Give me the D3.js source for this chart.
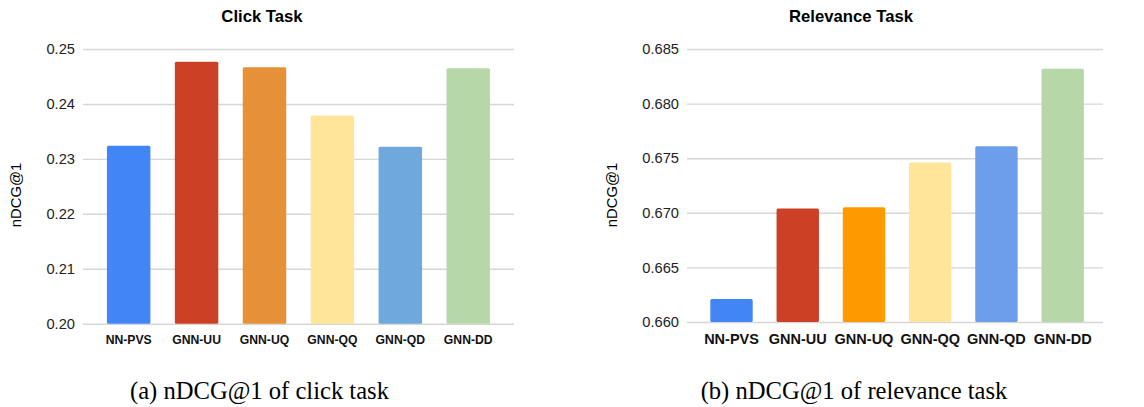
<!DOCTYPE html>
<meta charset="utf-8">
<style>
  body { margin: 0; background: #fff; }
  .grid line { stroke: #d6d6d6; stroke-width: 1.4px; }
  .tick text { fill: #222; }
  .title { font-family: Arial, "Liberation Sans", sans-serif; font-weight: bold; font-size: 16.7px; }
  .ylabel { font-family: Arial, "Liberation Sans", sans-serif; font-size: 14.8px; }
  .caption { font-family: "Times New Roman", "Liberation Serif", serif; font-size: 24.6px; }
</style>
<svg width="1144" height="407"></svg>
<script src="https://d3js.org/d3.v7.min.js"></script>
<script>
// data
var methods = ["NN-PVS", "GNN-UU", "GNN-UQ", "GNN-QQ", "GNN-QD", "GNN-DD"];
var clickValues = [0.2324, 0.2477, 0.2467, 0.2379, 0.2322, 0.2465];
var relevanceValues = [0.6621, 0.6704, 0.6705, 0.6746, 0.6761, 0.6832];
var clickTicks = [0.20, 0.21, 0.22, 0.23, 0.24, 0.25];
var relevanceTicks = [0.660, 0.665, 0.670, 0.675, 0.680, 0.685];
var clickColors = ["#4285f4", "#cc4125", "#e69138", "#ffe599", "#6fa8dc", "#b6d7a8"];
var relevanceColors = ["#4285f4", "#cc4125", "#ff9900", "#ffe599", "#6d9eeb", "#b6d7a8"];

var svg = d3.select("svg");

function drawPanel(p) {
  var g = svg.append("g");

  var y = d3.scaleLinear().domain(p.domain).range([p.bottom, p.top]);
  var x = d3.scaleBand().domain(methods).range(p.xRange)
            .paddingInner(0.36).paddingOuter(0.18);

  // grid + y tick labels
  var yAxis = d3.axisLeft(y)
      .tickValues(p.ticks)
      .tickFormat(d3.format(p.fmt))
      .tickSize(-(p.gridRight - p.gridLeft))
      .tickPadding(8);

  g.append("g")
    .attr("class", "grid")
    .attr("transform", "translate(" + p.gridLeft + ",0)")
    .call(yAxis)
    .call(function(s) { s.select(".domain").remove(); })
    .selectAll("text")
      .style("font-family", "Arial, 'Liberation Sans', sans-serif")
      .style("font-size", "14.7px");

  // bars
  g.selectAll("rect.bar")
    .data(p.values)
    .enter()
    .append("rect")
    .attr("class", "bar")
    .attr("x", function(d, i) { return x(methods[i]); })
    .attr("y", function(d) { return y(d); })
    .attr("width", x.bandwidth())
    .attr("height", function(d) { return y(p.domain[0]) - y(d); })
    .attr("rx", 1.5)
    .attr("fill", function(d, i) { return p.colors[i]; });

  // x labels
  var xAxis = d3.axisBottom(x).tickSize(0).tickPadding(0);
  g.append("g")
    .attr("transform", "translate(0," + y(p.domain[0]) + ")")
    .call(xAxis)
    .call(function(s) { s.select(".domain").remove(); })
    .selectAll("text")
      .attr("y", 344 - y(p.domain[0]))
      .attr("dy", 0)
      .style("font-family", "Arial, 'Liberation Sans', sans-serif")
      .style("font-weight", "bold")
      .style("font-size", p.xFont)
      .style("fill", "#111");

  g.append("text")
    .attr("class", "title")
    .attr("x", p.titleX)
    .attr("y", 22)
    .attr("text-anchor", "middle")
    .text(p.title);

  g.append("text")
    .attr("class", "ylabel")
    .attr("transform", "translate(" + p.ylabelX + ",195) rotate(-90)")
    .attr("text-anchor", "middle")
    .attr("dominant-baseline", "central")
    .text("nDCG@1");

  g.append("text")
    .attr("class", "caption")
    .attr("x", p.captionX)
    .attr("y", 399)
    .attr("text-anchor", "middle")
    .text(p.caption);
}

drawPanel({
  values: clickValues, colors: clickColors, ticks: clickTicks,
  domain: [0.20, 0.25], fmt: ".2f",
  top: 49, bottom: 323.7,
  gridLeft: 83, gridRight: 514,
  xRange: [94.7, 502.2], xFont: "12.2px",
  title: "Click Task", titleX: 262,
  ylabelX: 16,
  caption: "(a) nDCG@1 of click task", captionX: 259.5
});

drawPanel({
  values: relevanceValues, colors: relevanceColors, ticks: relevanceTicks,
  domain: [0.660, 0.685], fmt: ".3f",
  top: 49, bottom: 322,
  gridLeft: 687, gridRight: 1103,
  xRange: [698.4, 1095.8], xFont: "14.5px",
  title: "Relevance Task", titleX: 851,
  ylabelX: 612,
  caption: "(b) nDCG@1 of relevance task", captionX: 854
});
</script>
